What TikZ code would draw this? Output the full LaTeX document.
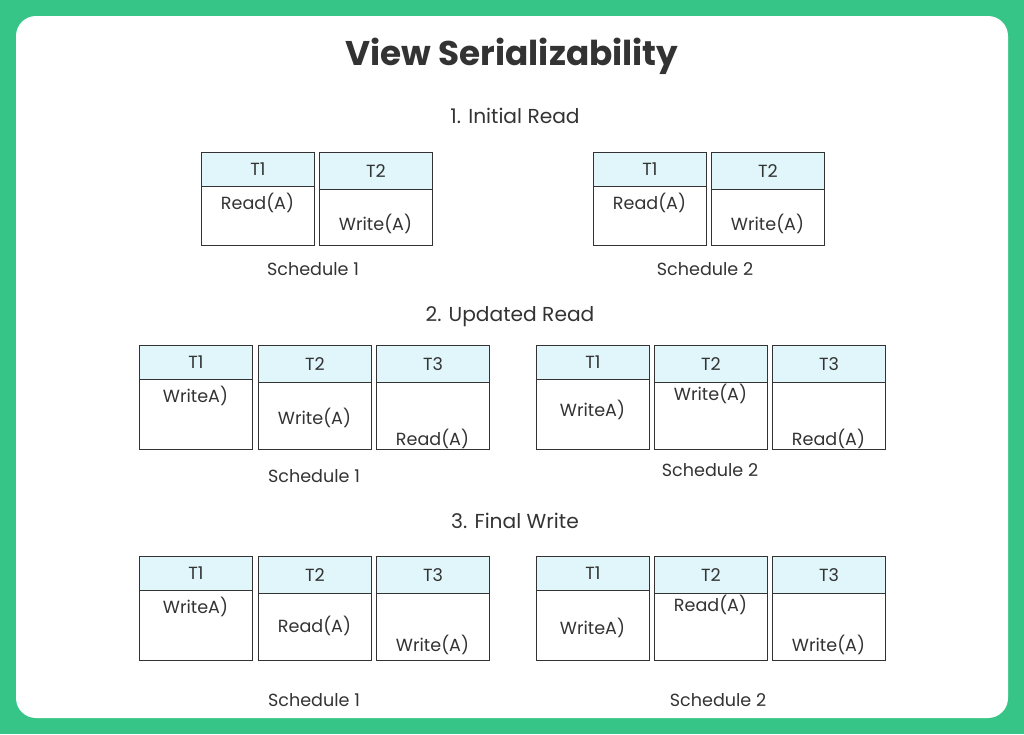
\documentclass[tikz,border=0pt]{standalone}
\usepackage{fontspec}
\setmainfont{Poppins}
\usetikzlibrary{positioning}
\definecolor{FrameGreen}{RGB}{54,197,135}
\definecolor{HeadCyan}{RGB}{224,246,251}
\definecolor{InkGray}{RGB}{51,51,51}
\tikzset{
  colbody/.style={draw=InkGray, line width=0.6pt, anchor=north west, minimum width=2.26cm, inner sep=0pt},
  colhead/.style={draw=InkGray, fill=HeadCyan, line width=0.6pt, anchor=north, minimum width=2.26cm, inner sep=0pt, text=InkGray, font=\fontsize{10}{12}\selectfont},
  optext/.style={text=InkGray, font=\fontsize{10}{12}\selectfont, inner sep=0pt},
  schedcap/.style={text=InkGray, font=\fontsize{10}{12}\selectfont, inner sep=0pt},
  parttitle/.style={text=InkGray, font=\fontsize{11.5}{14}\selectfont, inner sep=0pt}
}
% one transaction column: name, left x, top y, body height, head height, head label, operation, operation y
\newcommand{\trcol}[8]{%
  \node[colbody, minimum height=#4] (#1) at (#2,#3) {};
  \node[colhead, minimum height=#5] (#1h) at (#1.north) {#6};
  \node[optext] (#1t) at ([xshift=1.13cm]#2,#8) {#7};
}

\begin{document}
\begin{tikzpicture}[x=0.02cm, y=-0.02cm]
  \fill[FrameGreen] (0,0) rectangle (1024,734);
  \fill[white, rounded corners=0.4cm] (16,16) rectangle (1008,718);
  \useasboundingbox (0,0) rectangle (1024,734);

  \node[text=InkGray, font=\fontsize{19.5}{23}\selectfont\bfseries] (title) at (512,56) {View Serializability};

  % 1. initial read
  \node[parttitle] (initial) at (515,116) {1. Initial Read};
  \trcol{ia}{201}{152}{1.86cm}{0.68cm}{T1}{Read(A)}{203}
  \trcol{ib}{319}{152}{1.86cm}{0.74cm}{T2}{Write(A)}{224}
  \trcol{ic}{593}{152}{1.86cm}{0.68cm}{T1}{Read(A)}{203}
  \trcol{id}{711}{152}{1.86cm}{0.74cm}{T2}{Write(A)}{224}
  \node[schedcap] (icap1) at (313,269) {Schedule 1};
  \node[schedcap] (icap2) at (705,269) {Schedule 2};

  % 2. updated read
  \node[parttitle] (updated) at (510,317) {2. Updated Read};
  \trcol{ua}{139}{345}{2.08cm}{0.68cm}{T1}{WriteA)}{396}
  \trcol{ub}{258}{345}{2.08cm}{0.74cm}{T2}{Write(A)}{418}
  \trcol{uc}{376}{345}{2.08cm}{0.74cm}{T3}{Read(A)}{439}
  \trcol{ud}{536}{345}{2.08cm}{0.68cm}{T1}{WriteA)}{410}
  \trcol{ue}{654}{345}{2.08cm}{0.74cm}{T2}{Write(A)}{394}
  \trcol{uf}{772}{345}{2.08cm}{0.74cm}{T3}{Read(A)}{439}
  \node[schedcap] (ucap1) at (314,476) {Schedule 1};
  \node[schedcap] (ucap2) at (710,470) {Schedule 2};

  % 3. final write
  \node[parttitle] (final) at (515,521) {3. Final Write};
  \trcol{fa}{139}{556}{2.08cm}{0.68cm}{T1}{WriteA)}{607}
  \trcol{fb}{258}{556}{2.08cm}{0.74cm}{T2}{Read(A)}{626}
  \trcol{fc}{376}{556}{2.08cm}{0.74cm}{T3}{Write(A)}{645}
  \trcol{fd}{536}{556}{2.08cm}{0.68cm}{T1}{WriteA)}{628}
  \trcol{fe}{654}{556}{2.08cm}{0.74cm}{T2}{Read(A)}{605}
  \trcol{ff}{772}{556}{2.08cm}{0.74cm}{T3}{Write(A)}{645}
  \node[schedcap] (fcap1) at (314,700) {Schedule 1};
  \node[schedcap] (fcap2) at (718,700) {Schedule 2};
\end{tikzpicture}
\end{document}
